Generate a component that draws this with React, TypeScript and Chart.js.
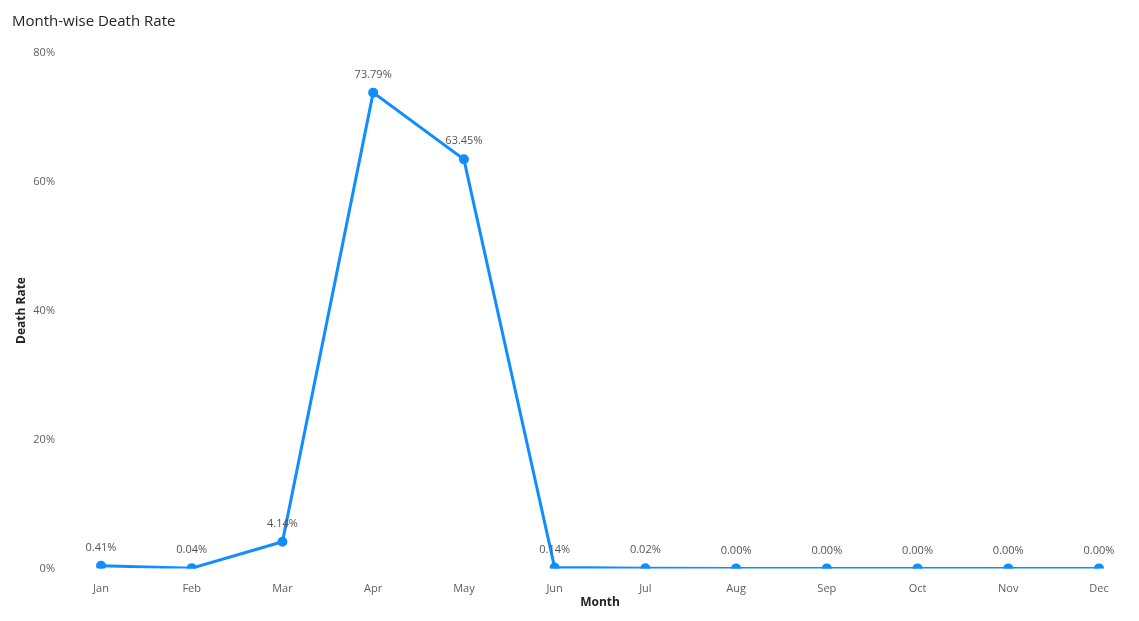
import { useEffect, useRef } from "react"
import { Chart, registerables } from "chart.js"

Chart.register(...registerables)

const months = ["Jan", "Feb", "Mar", "Apr", "May", "Jun", "Jul", "Aug", "Sep", "Oct", "Nov", "Dec"]
const deathRate = [0.41, 0.04, 4.14, 73.79, 63.45, 0.14, 0.02, 0, 0, 0, 0, 0]
const yTicks = [0, 20, 40, 60, 80]

const FONT = "'Open Sans', 'Noto Sans', sans-serif"

// 図のタイトルとデータラベル
const labelPlugin = {
  id: "labels",
  afterDatasetsDraw(chart: Chart) {
    const ctx = chart.ctx
    ctx.save()
    ctx.fillStyle = "#252423"
    ctx.font = `500 15px ${FONT}`
    ctx.textAlign = "left"
    ctx.textBaseline = "middle"
    ctx.fillText("Month-wise Death Rate", 12, 22)

    ctx.font = `11px ${FONT}`
    ctx.fillStyle = "#555"
    ctx.textAlign = "center"
    const meta = chart.getDatasetMeta(0)
    meta.data.forEach((pt, i) => {
      ctx.fillText(deathRate[i].toFixed(2) + "%", pt.x, pt.y - 18)
    })
    ctx.restore()
  },
}

export default function App() {
  const canvasRef = useRef<HTMLCanvasElement>(null)
  const chartRef = useRef<Chart | null>(null)

  useEffect(() => {
    document.body.style.margin = "0"
    if (!canvasRef.current) return
    if (chartRef.current) chartRef.current.destroy()
    const ctx = canvasRef.current.getContext("2d")
    if (!ctx) return

    chartRef.current = new Chart(ctx, {
      type: "line",
      data: {
        labels: months,
        datasets: [
          {
            data: deathRate,
            borderColor: "#118DFF",
            backgroundColor: "#118DFF",
            borderWidth: 3,
            pointRadius: 3.5,
            tension: 0,
          },
        ],
      },
      options: {
        responsive: false,
        animation: false,
        layout: { padding: { top: 36, right: 40, left: 14, bottom: 0 } },
        plugins: { legend: { display: false }, tooltip: { enabled: false } },
        scales: {
          x: {
            offset: false,
            grid: { display: false, drawTicks: false },
            border: { display: false },
            ticks: { color: "#605E5C", font: { family: FONT, size: 11 }, padding: 14, maxRotation: 0 },
            title: { display: true, text: "Month", color: "#252423", font: { family: FONT, size: 12, weight: "bold" }, padding: { top: 0, bottom: 0 } },
            afterFit: (s: any) => { s.height = 41 },
          },
          y: {
            min: 0,
            max: 80,
            grid: { display: false, drawTicks: false },
            border: { display: false },
            afterBuildTicks: (s: any) => { s.ticks = yTicks.map(v => ({ value: v })) },
            ticks: { color: "#605E5C", font: { family: FONT, size: 11 }, padding: 46, callback: (v: any) => v + "%" },
            title: { display: true, text: "Death Rate", color: "#252423", font: { family: FONT, size: 12, weight: "bold" }, padding: 0 },
            afterFit: (s: any) => { s.width = 87 },
          },
        },
      },
      plugins: [labelPlugin],
    })

    return () => {
      if (chartRef.current) chartRef.current.destroy()
    }
  }, [])

  return <canvas ref={canvasRef} width={1139} height={621} style={{ display: "block" }} />
}
